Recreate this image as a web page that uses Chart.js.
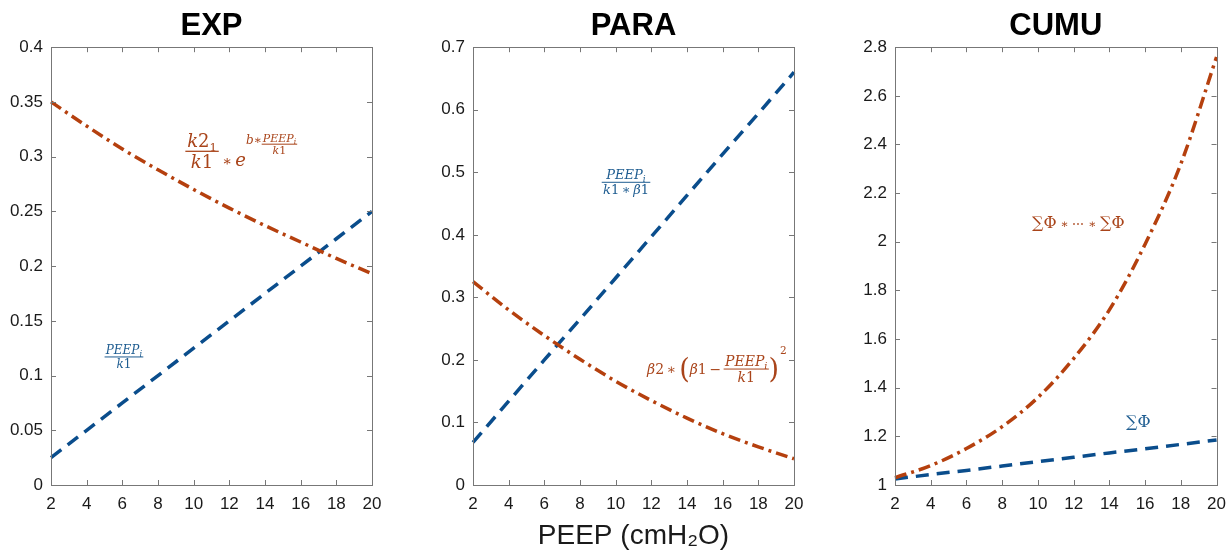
<!DOCTYPE html>
<html lang="en">
<head>
<meta charset="UTF-8">
<title>EXP / PARA / CUMU</title>
<script src="https://cdn.jsdelivr.net/npm/chart.js"></script>
<style>
  html, body { margin:0; padding:0; background:#fff; overflow:hidden; width:1232px; height:555px; }
  canvas { position:absolute; top:0; }
</style>
</head>
<body>
<canvas id="c1" width="410" height="555" style="left:0px"></canvas>
<canvas id="c2" width="412" height="555" style="left:410px"></canvas>
<canvas id="c3" width="413" height="555" style="left:822px"></canvas>
<script>
// PEEP values (cmH2O)
const peep = [2, 4, 6, 8, 10, 12, 14, 16, 18, 20];

// EXP panel
const expRed  = [0.350, 0.328, 0.307, 0.288, 0.270, 0.253, 0.237, 0.222, 0.207, 0.193];
const expBlue = [0.025, 0.050, 0.075, 0.100, 0.125, 0.150, 0.175, 0.200, 0.225, 0.250];

// PARA panel
const paraBlue = [0.068, 0.134, 0.200, 0.265, 0.331, 0.397, 0.463, 0.529, 0.594, 0.660];
const paraRed  = [0.325, 0.280, 0.239, 0.201, 0.166, 0.135, 0.107, 0.082, 0.061, 0.042];

// CUMU panel
const cumuBlue = [1.025, 1.043, 1.060, 1.078, 1.096, 1.114, 1.132, 1.149, 1.167, 1.185];
const cumuRed  = [1.03, 1.08, 1.15, 1.24, 1.36, 1.52, 1.72, 1.99, 2.32, 2.76];

const titles = ['EXP', 'PARA', 'CUMU'];
const xTitle = 'PEEP (cmH\u2082O)';

const RED = '#b5400e', BLUE = '#0a4d8c';
const RED_TXT = '#a9441a', BLUE_TXT = '#1f5d91';
const SERIF = '"DejaVu Serif", "Liberation Serif", serif';

Chart.defaults.font.family = '"Liberation Sans", Arial, sans-serif';

// --- little math-text helpers ---
function fontOf(size, it) { return (it ? 'italic ' : '') + size + 'px ' + SERIF; }
function runWidth(ctx, parts, size) {
  let w = 0;
  for (const p of parts) { ctx.font = fontOf(size * (p[2] || 1), p[1]); w += ctx.measureText(p[0]).width; }
  return w;
}
function drawRun(ctx, x, y, parts, size) {
  for (const p of parts) {
    ctx.font = fontOf(size * (p[2] || 1), p[1]);
    ctx.fillText(p[0], x, y + (p[3] || 0) * size);
    x += ctx.measureText(p[0]).width;
  }
  return x;
}
function drawFrac(ctx, cx, barY, num, den, size) {
  const wn = runWidth(ctx, num, size), wd = runWidth(ctx, den, size);
  const w = Math.max(wn, wd) + size * 0.2;
  drawRun(ctx, cx - wn / 2, barY - size * 0.22, num, size);
  drawRun(ctx, cx - wd / 2, barY + size * 0.92, den, size);
  ctx.fillRect(cx - w / 2, barY - 0.5, w, Math.max(1, size * 0.07));
  return w;
}
const PEEPi = [['PEEP', true], ['i', true, 0.7, 0.2]];
const K1 = [['k', true], ['1', false]];
const TIMES = '\u2009\u2217\u2009';

// formula labels, anchored at data coordinates
const expLabels = [
  { x: 10.47, y: 0.305, color: RED_TXT, draw(ctx, px, py) {
      const s = 18;
      const w = drawFrac(ctx, px, py, [['k', true], ['2', false], ['1', false, 0.65, 0.2]], K1, s);
      let x = drawRun(ctx, px + w / 2 + 1, py + s * 0.8, [[TIMES, false, 0.8], ['e', true]], s);
      x = drawRun(ctx, x, py - 7, [['b', true], ['\u2217', false]], 12);
      const wf = runWidth(ctx, PEEPi, 11);
      drawFrac(ctx, x + wf / 2 + 1, py - 7, PEEPi, K1, 11);
  } },
  { x: 6.09, y: 0.117, color: BLUE_TXT, draw(ctx, px, py) {
      drawFrac(ctx, px, py, PEEPi, K1, 12);
  } }
];
const paraLabels = [
  { x: 10.58, y: 0.484, color: BLUE_TXT, draw(ctx, px, py) {
      drawFrac(ctx, px, py, PEEPi, [['k', true], ['1', false], [TIMES, false], ['\u03b2', true], ['1', false]], 13);
  } },
  { x: 11.76, y: 0.1854, color: RED_TXT, draw(ctx, px, py) {
      const s = 14;
      let x = drawRun(ctx, px, py + 5, [['\u03b2', true], ['2', false], [TIMES, false]], s);
      ctx.font = '27px ' + SERIF; ctx.fillText('(', x, py + 9); x += ctx.measureText('(').width;
      x = drawRun(ctx, x, py + 5, [['\u03b2', true], ['1', false], ['\u2009\u2212\u2009', false]], s);
      const wf = runWidth(ctx, PEEPi, s);
      drawFrac(ctx, x + wf / 2 + 1, py, PEEPi, K1, s);
      x += wf + 2;
      ctx.font = '27px ' + SERIF; ctx.fillText(')', x, py + 9); x += ctx.measureText(')').width + 1;
      drawRun(ctx, x, py - 15, [['2', false, 0.75]], s);
  } }
];
const cumuLabels = [
  { x: 12.26, y: 2.081, color: RED_TXT, draw(ctx, px, py) {
      const parts = [['\u2211\u03a6', false], [' \u2217 \u22ef \u2217 ', false, 0.75], ['\u2211\u03a6', false]];
      drawRun(ctx, px - runWidth(ctx, parts, 16) / 2, py + 6, parts, 16);
  } },
  { x: 15.62, y: 1.263, color: BLUE_TXT, draw(ctx, px, py) {
      const parts = [['\u2211\u03a6', false]];
      drawRun(ctx, px - runWidth(ctx, parts, 16) / 2, py + 6, parts, 16);
  } }
];

// box with inward ticks on all four sides (MATLAB look)
const framePlugin = {
  id: 'frame',
  afterDatasetsDraw(chart) {
    const { ctx, chartArea: a, scales: { x, y } } = chart;
    ctx.save();
    ctx.strokeStyle = '#777'; ctx.lineWidth = 1;
    ctx.strokeRect(Math.round(a.left) + 0.5, Math.round(a.top) + 0.5, Math.round(a.right - a.left), Math.round(a.bottom - a.top));
    ctx.beginPath();
    x.ticks.forEach(t => {
      const p = Math.round(x.getPixelForValue(t.value)) + 0.5;
      ctx.moveTo(p, a.bottom); ctx.lineTo(p, a.bottom - 5);
      ctx.moveTo(p, a.top); ctx.lineTo(p, a.top + 5);
    });
    y.ticks.forEach(t => {
      const p = Math.round(y.getPixelForValue(t.value)) + 0.5;
      ctx.moveTo(a.left, p); ctx.lineTo(a.left + 5, p);
      ctx.moveTo(a.right, p); ctx.lineTo(a.right - 5, p);
    });
    ctx.stroke();
    ctx.restore();
  }
};

const mathPlugin = {
  id: 'mathLabels',
  afterDraw(chart, args, opts) {
    const { ctx, scales: { x, y } } = chart;
    (opts.items || []).forEach(it => {
      ctx.save();
      ctx.fillStyle = it.color;
      ctx.textBaseline = 'alphabetic';
      it.draw(ctx, x.getPixelForValue(it.x), y.getPixelForValue(it.y));
      ctx.restore();
    });
  }
};

function pts(ys) { return peep.map((p, i) => ({ x: p, y: ys[i] })); }

function makeChart(id, title, yMin, yMax, yStep, yWidth, padRight, red, blue, labels, withXTitle) {
  new Chart(document.getElementById(id), {
    type: 'line',
    data: {
      datasets: [
        { data: pts(red), borderColor: RED, borderWidth: 3.5, borderDash: [12, 5, 3, 5],
          pointRadius: 0, cubicInterpolationMode: 'monotone', fill: false, clip: false },
        { data: pts(blue), borderColor: BLUE, borderWidth: 3.5, borderDash: [13, 8],
          pointRadius: 0, fill: false, clip: false }
      ]
    },
    options: {
      responsive: false,
      animation: false,
      devicePixelRatio: 1,
      layout: { padding: { left: 0, right: padRight, top: 0, bottom: 0 } },
      plugins: {
        legend: { display: false },
        tooltip: { enabled: false },
        title: { display: true, fullSize: false, text: title, color: '#000',
                 font: { size: 31, weight: 'bold' }, padding: { top: 8, bottom: 2 } },
        mathLabels: { items: labels }
      },
      scales: {
        x: {
          type: 'linear', min: 2, max: 20,
          grid: { display: false, drawTicks: false }, border: { display: false },
          ticks: { stepSize: 2, autoSkip: false, maxRotation: 0, padding: 9,
                   color: '#1a1a1a', font: { size: 17 } },
          title: { display: withXTitle, text: xTitle, color: '#1a1a1a',
                   font: { size: 28 }, padding: { top: 0, bottom: 2 } },
          afterFit: s => { s.height = 70; }
        },
        y: {
          type: 'linear', min: yMin, max: yMax,
          grid: { display: false, drawTicks: false }, border: { display: false },
          ticks: { stepSize: yStep, padding: 8, color: '#1a1a1a', font: { size: 17 },
                   callback: v => String(Math.round(v * 1000) / 1000) },
          afterFit: s => { s.width = yWidth; }
        }
      }
    },
    plugins: [framePlugin, mathPlugin]
  });
}

makeChart('c1', titles[0], 0, 0.4, 0.05, 51, 38, expRed, expBlue, expLabels, false);
makeChart('c2', titles[1], 0, 0.7, 0.1, 63, 28, paraRed, paraBlue, paraLabels, true);
makeChart('c3', titles[2], 1, 2.8, 0.2, 73, 13, cumuRed, cumuBlue, cumuLabels, false);
</script>
</body>
</html>
